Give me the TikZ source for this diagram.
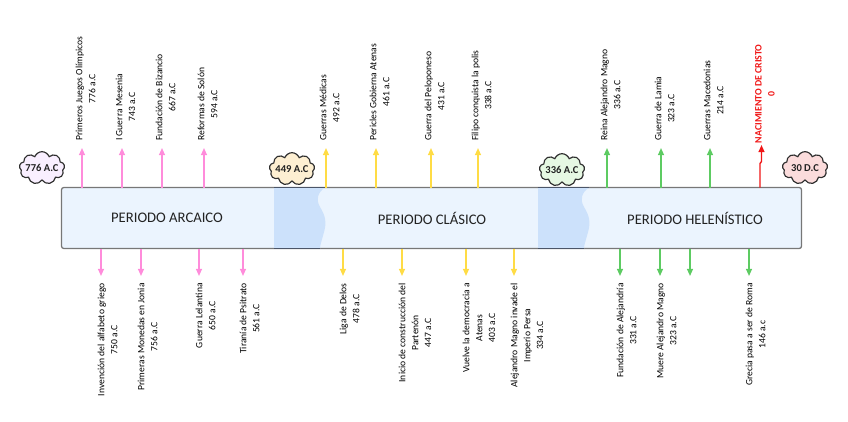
\documentclass[tikz,border=0pt]{standalone}
\usepackage{fontspec}
\setmainfont{Carlito}
\usepackage{tikz}
\usetikzlibrary{
    arrows.meta,
    shapes.symbols,
    calc
}
\definecolor{barfill}{HTML}{EBF4FE}
\definecolor{barborder}{HTML}{777777}
\definecolor{transfill}{HTML}{CCE1FB}
\definecolor{transedge}{HTML}{4B5568}
\definecolor{textgray}{HTML}{222222}
\definecolor{cloudborder}{HTML}{2F2F2F}
\definecolor{archaicpink}{HTML}{FF8CDB}
\definecolor{classicyellow}{HTML}{FFDC45}
\definecolor{hellgreen}{HTML}{5DCB62}
\definecolor{birthred}{HTML}{F01515}
\definecolor{cloudlilac}{HTML}{F9EFFF}
\definecolor{cloudcream}{HTML}{FDEFD2}
\definecolor{cloudmint}{HTML}{E6F8E3}
\definecolor{cloudrose}{HTML}{FBDCDC}
\tikzset{
    timeline bar/.style={
        draw=barborder, fill=barfill,
        rounded corners=2pt, line width=1.1pt
    },
    period/.style={
        font=\fontsize{12.5}{14}\selectfont, text=textgray
    },
    era cloud/.style={
        cloud, cloud puffs=9, cloud puff arc=140, cloud ignores aspect,
        draw=cloudborder, fill=#1, line width=1pt,
        minimum width=1.36cm, minimum height=0.98cm, inner sep=0pt
    },
    cloud text/.style={
        font=\bfseries\fontsize{9}{10}\selectfont, text=textgray
    },
    event up/.style={
        rotate=90, anchor=north west, align=center,
        inner xsep=6pt, inner ysep=0pt,
        font=\fontsize{8.2}{11}\selectfont, text=black
    },
    event down/.style={
        event up, anchor=north east
    },
    event arrow/.style={
        -{Triangle[length=6pt, width=5pt]}, line width=1.2pt, color=#1
    },
    event arrow/.default={black},
}

\begin{document}
\begin{tikzpicture}[x=0.03cm, y=-0.03cm]
    \useasboundingbox (0,0) rectangle (848,421);

    % barra de periodos
    \draw[timeline bar] (61.5,187.5) rectangle (801.5,248.5);
    \foreach \tx in {274,538} {
        \begin{scope}[shift={(\tx,0)}]
            \fill[transfill] (0,187.5) -- (51,187.5) .. controls (43,193) and (42,200) .. (46,207)
                .. controls (51,215) and (53,222) .. (50,232) .. controls (48,240) and (46,245) .. (46,248.5)
                -- (0,248.5) -- cycle;
            \draw[transedge, line width=1pt] (0,187.5) -- (51,187.5);
            \draw[transedge, line width=1pt] (0,248.5) -- (46,248.5);
        \end{scope}
    }

    \node[period] (arcaico) at (167,218) {PERIODO ARCAICO};
    \node[period] (clasico) at (432,218) {PERIODO CLÁSICO};
    \node[period] (helenistico) at (695,218) {PERIODO HELENÍSTICO};

    \node[era cloud=cloudlilac, label={[cloud text]center:776 A.C}] (c776) at (42,168) {};
    \node[era cloud=cloudcream, label={[cloud text]center:449 A.C}] (c449) at (292,169) {};
    \node[era cloud=cloudmint, label={[cloud text]center:336 A.C}] (c336) at (562,170) {};
    \node[era cloud=cloudrose, label={[cloud text]center:30 D.C}] (c30) at (805,168) {};

    % eventos arriba
    \coordinate (u1) at (82,187.5);
    \node[event up] (e1) at (75.5,148) {Primeros Juegos Olímpicos\\776 a.C};
    \draw[event arrow=archaicpink] (u1) -- (u1 |- e1.west);
    \coordinate (u2) at (122,187.5);
    \node[event up] (e2) at (115.5,148) {I Guerra Mesenia\\743 a.C};
    \draw[event arrow=archaicpink] (u2) -- (u2 |- e2.west);
    \coordinate (u3) at (162,187.5);
    \node[event up] (e3) at (155.5,148) {Fundación de Bizancio\\667 a.C};
    \draw[event arrow=archaicpink] (u3) -- (u3 |- e3.west);
    \coordinate (u4) at (204,187.5);
    \node[event up] (e4) at (197.5,148) {Reformas de Solón\\594 a.C};
    \draw[event arrow=archaicpink] (u4) -- (u4 |- e4.west);

    \coordinate (u5) at (326,187.5);
    \node[event up] (e5) at (319.5,148) {Guerras Médicas\\492 a.C};
    \draw[event arrow=classicyellow] (u5) -- (u5 |- e5.west);
    \coordinate (u6) at (376,187.5);
    \node[event up] (e6) at (369.5,148) {Pericles Gobierna Atenas\\461 a.C};
    \draw[event arrow=classicyellow] (u6) -- (u6 |- e6.west);
    \coordinate (u7) at (431,187.5);
    \node[event up] (e7) at (424.5,148) {Guerra del Peloponeso\\431 a.C};
    \draw[event arrow=classicyellow] (u7) -- (u7 |- e7.west);
    \coordinate (u8) at (478,187.5);
    \node[event up] (e8) at (471.5,148) {Filipo conquista la polis\\338 a.C};
    \draw[event arrow=classicyellow] (u8) -- (u8 |- e8.west);

    \coordinate (u9) at (607,187.5);
    \node[event up] (e9) at (600.5,148) {Reina Alejandro Magno\\336 a.C};
    \draw[event arrow=hellgreen] (u9) -- (u9 |- e9.west);
    \coordinate (u10) at (661,187.5);
    \node[event up] (e10) at (654.5,148) {Guerra de Lamia\\323 a.C};
    \draw[event arrow=hellgreen] (u10) -- (u10 |- e10.west);
    \coordinate (u11) at (710,187.5);
    \node[event up] (e11) at (703.5,148) {Guerras Macedonias\\214 a.C};
    \draw[event arrow=hellgreen] (u11) -- (u11 |- e11.west);

    \coordinate (u12) at (760,187.5);
    \node[event up, inner xsep=1.5pt, text=birthred, font=\bfseries\fontsize{8.4}{11}\selectfont] (e12) at (755,145) {NACIMIENTO DE CRISTO\\0};
    \draw[event arrow=birthred] (u12) -- ++(0,-24) -- ++(1.5,-2) -- ($(u12 |- e12.west)+(1.5,0)$);

    % eventos abajo
    \coordinate (v1) at (101,248.5);
    \node[event down] (f1) at (97.5,276) {Invención del alfabeto griego\\750 a.C};
    \draw[event arrow=archaicpink] (v1) -- (v1 |- f1.east);
    \coordinate (v2) at (141,248.5);
    \node[event down] (f2) at (137.5,276) {Primeras Monedas en Jonia\\756 a.C};
    \draw[event arrow=archaicpink] (v2) -- (v2 |- f2.east);
    \coordinate (v3) at (199,248.5);
    \node[event down] (f3) at (195.5,276) {Guerra Lelantina\\650 a.C};
    \draw[event arrow=archaicpink] (v3) -- (v3 |- f3.east);
    \coordinate (v4) at (243,248.5);
    \node[event down] (f4) at (239.5,276) {Tiranía de Psitrato\\561 a.C};
    \draw[event arrow=archaicpink] (v4) -- (v4 |- f4.east);

    \coordinate (v5) at (343,248.5);
    \node[event down] (f5) at (339.5,276) {Liga de Delos\\478 a.C};
    \draw[event arrow=classicyellow] (v5) -- (v5 |- f5.east);
    \coordinate (v6) at (402,248.5);
    \node[event down] (f6) at (398.5,276) {Inicio de construcción del\\Partenón\\447 a.C};
    \draw[event arrow=classicyellow] (v6) -- (v6 |- f6.east);
    \coordinate (v7) at (466,248.5);
    \node[event down] (f7) at (462.5,276) {Vuelve la democracia a\\Atenas\\403 a.C};
    \draw[event arrow=classicyellow] (v7) -- (v7 |- f7.east);
    \coordinate (v8) at (514,248.5);
    \node[event down] (f8) at (510.5,276) {Alejandro Magno invade el\\Imperio Persa\\334 a.C};
    \draw[event arrow=classicyellow] (v8) -- (v8 |- f8.east);

    \coordinate (v9) at (620,248.5);
    \node[event down] (f9) at (616.5,276) {Fundación de Alejandría\\331 a.C};
    \draw[event arrow=hellgreen] (v9) -- (v9 |- f9.east);
    \coordinate (v10) at (660,248.5);
    \node[event down] (f10) at (656.5,276) {Muere Alejandro Magno\\323 a.C};
    \draw[event arrow=hellgreen] (v10) -- (v10 |- f10.east);
    \coordinate (v11) at (690,248.5);
    \coordinate (w11) at (690,276);
    \draw[event arrow=hellgreen] (v11) -- (w11);
    \coordinate (v12) at (749,248.5);
    \node[event down] (f12) at (745.5,276) {Grecia pasa a ser de Roma\\146 a.c};
    \draw[event arrow=hellgreen] (v12) -- (v12 |- f12.east);
\end{tikzpicture}
\end{document}
